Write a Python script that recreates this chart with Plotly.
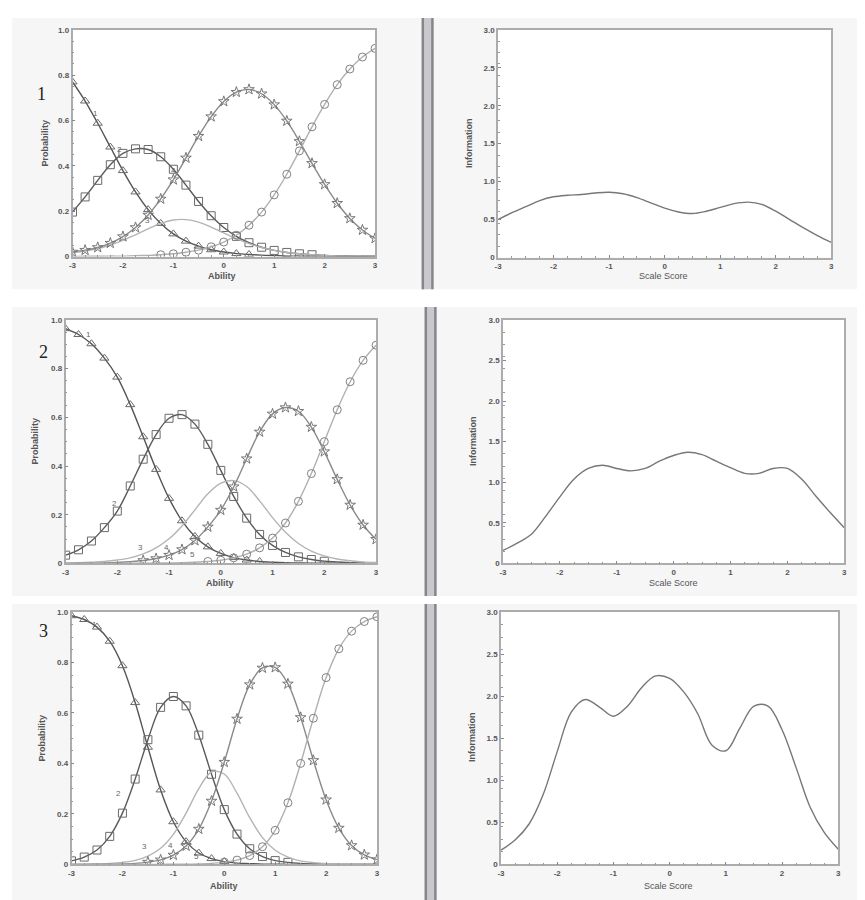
import plotly.graph_objects as go

# ---------------- data ----------------
THETA = [-3.0, -2.75, -2.5, -2.25, -2.0, -1.75, -1.5, -1.25, -1.0, -0.75, -0.5, -0.25,
         0.0, 0.25, 0.5, 0.75, 1.0, 1.25, 1.5, 1.75, 2.0, 2.25, 2.5, 2.75, 3.0]

# Row 1 category response curves
R1_CAT1 = [0.770, 0.686, 0.588, 0.483, 0.379, 0.285, 0.207, 0.146, 0.100, 0.068, 0.046, 0.030, 0.020,
           0.013, 0.009, 0.006, 0.004, 0.002, 0.002, 0.001, 0.001, 0.000, 0.000, 0.000, 0.000]
R1_CAT2 = [0.196, 0.263, 0.336, 0.405, 0.455, 0.475, 0.472, 0.440, 0.385, 0.315, 0.243, 0.180, 0.128,
           0.089, 0.061, 0.041, 0.027, 0.018, 0.012, 0.008, 0.005, 0.003, 0.002, 0.001, 0.001]
R1_CAT3 = [0.016, 0.024, 0.035, 0.051, 0.071, 0.096, 0.122, 0.146, 0.161, 0.163, 0.152, 0.130, 0.104,
           0.079, 0.057, 0.040, 0.027, 0.018, 0.012, 0.008, 0.005, 0.003, 0.002, 0.002, 0.001]
R1_CAT4 = [0.020, 0.028, 0.040, 0.059, 0.088, 0.128, 0.183, 0.254, 0.339, 0.435, 0.531, 0.617, 0.684,
           0.725, 0.737, 0.718, 0.670, 0.598, 0.508, 0.411, 0.318, 0.235, 0.168, 0.117, 0.080]
R1_CAT5 = [0.000, 0.001, 0.001, 0.002, 0.002, 0.004, 0.005, 0.008, 0.012, 0.019, 0.028, 0.043, 0.064,
           0.094, 0.138, 0.196, 0.272, 0.363, 0.466, 0.572, 0.671, 0.758, 0.827, 0.880, 0.918]

# Row 2 category response curves
R2_CAT1 = [0.964, 0.940, 0.902, 0.843, 0.765, 0.652, 0.520, 0.386, 0.267, 0.175, 0.111, 0.068, 0.041,
           0.024, 0.014, 0.008, 0.005, 0.003, 0.002, 0.001, 0.001, 0.000, 0.000, 0.000, 0.000]
R2_CAT2 = [0.034, 0.056, 0.092, 0.147, 0.215, 0.318, 0.428, 0.529, 0.596, 0.611, 0.572, 0.489, 0.382,
           0.275, 0.186, 0.119, 0.074, 0.045, 0.027, 0.016, 0.009, 0.006, 0.003, 0.002, 0.001]
R2_CAT3 = [0.002, 0.003, 0.005, 0.008, 0.014, 0.023, 0.039, 0.064, 0.101, 0.154, 0.220, 0.286, 0.330,
           0.340, 0.316, 0.257, 0.188, 0.128, 0.082, 0.051, 0.031, 0.018, 0.011, 0.006, 0.004]
R2_CAT4 = [0.000, 0.001, 0.001, 0.002, 0.004, 0.007, 0.012, 0.020, 0.034, 0.057, 0.094, 0.150, 0.219,
           0.315, 0.430, 0.540, 0.614, 0.640, 0.625, 0.560, 0.459, 0.345, 0.240, 0.158, 0.099]
R2_CAT5 = [0.000, 0.000, 0.000, 0.000, 0.000, 0.000, 0.001, 0.001, 0.002, 0.003, 0.005, 0.008, 0.013,
           0.023, 0.038, 0.064, 0.104, 0.166, 0.255, 0.369, 0.500, 0.631, 0.746, 0.834, 0.896]

# Row 3 category response curves
R3_CAT1 = [0.985, 0.970, 0.940, 0.884, 0.787, 0.641, 0.464, 0.295, 0.169, 0.090, 0.045, 0.023, 0.011,
           0.005, 0.003, 0.001, 0.001, 0.000, 0.000, 0.000, 0.000, 0.000, 0.000, 0.000, 0.000]
R3_CAT2 = [0.014, 0.029, 0.057, 0.111, 0.203, 0.338, 0.494, 0.622, 0.665, 0.628, 0.512, 0.357, 0.217,
           0.120, 0.062, 0.031, 0.015, 0.008, 0.004, 0.002, 0.001, 0.000, 0.000, 0.000, 0.000]
R3_CAT3 = [0.001, 0.001, 0.002, 0.004, 0.008, 0.016, 0.033, 0.064, 0.119, 0.203, 0.300, 0.366, 0.358,
           0.282, 0.185, 0.106, 0.056, 0.029, 0.014, 0.007, 0.003, 0.002, 0.001, 0.000, 0.000]
R3_CAT4 = [0.000, 0.000, 0.001, 0.001, 0.002, 0.004, 0.009, 0.018, 0.037, 0.073, 0.140, 0.251, 0.405,
           0.576, 0.712, 0.778, 0.780, 0.715, 0.582, 0.412, 0.256, 0.144, 0.075, 0.038, 0.019]
R3_CAT5 = [0.000, 0.000, 0.000, 0.000, 0.000, 0.000, 0.000, 0.000, 0.001, 0.001, 0.002, 0.004, 0.009,
           0.017, 0.035, 0.070, 0.135, 0.244, 0.400, 0.579, 0.740, 0.854, 0.924, 0.962, 0.981]

# Information curves
INFO1 = [0.50, 0.59, 0.67, 0.75, 0.80, 0.82, 0.83, 0.85, 0.86, 0.84, 0.79, 0.72, 0.65,
         0.60, 0.58, 0.61, 0.66, 0.71, 0.73, 0.70, 0.61, 0.50, 0.39, 0.29, 0.20]
INFO2 = [0.16, 0.25, 0.36, 0.58, 0.82, 1.04, 1.17, 1.21, 1.17, 1.14, 1.17, 1.26, 1.33,
         1.37, 1.34, 1.26, 1.18, 1.11, 1.11, 1.17, 1.17, 1.04, 0.83, 0.63, 0.44]
INFO3 = [0.17, 0.29, 0.48, 0.83, 1.34, 1.81, 1.96, 1.87, 1.76, 1.88, 2.10, 2.24, 2.21,
         2.05, 1.79, 1.42, 1.35, 1.62, 1.88, 1.88, 1.60, 1.15, 0.68, 0.38, 0.18]

PROB_TICKS = [0, 0.2, 0.4, 0.6, 0.8, 1.0]
PROB_TICKTEXT = ["0", "0.2", "0.4", "0.6", "0.8", "1.0"]
INFO_TICKS = [0, 0.5, 1.0, 1.5, 2.0, 2.5, 3.0]
INFO_TICKTEXT = ["0", "0.5", "1.0", "1.5", "2.0", "2.5", "3.0"]
X_TICKS = [-3, -2, -1, 0, 1, 2, 3]
X_TICKTEXT = ["-3", "-2", "-1", "0", "1", "2", "3"]

ROW_LABELS = ["1", "2", "3"]
CAT_LABELS = ["1", "2", "3", "4", "5"]
# label anchor positions (theta, prob) per row
CAT_LABEL_POS = [
    [(-2.55, 0.63), (-2.07, 0.47), (-1.52, 0.16), (-1.0, 0.38), None],
    [(-2.56, 0.94), (-2.06, 0.245), (-1.56, 0.065), (-1.05, 0.065), (-0.55, 0.037)],
    [(-2.55, 0.95), (-2.07, 0.28), (-1.56, 0.07), (-1.05, 0.073), (-0.55, 0.03)],
]

ROWS = [
    [R1_CAT1, R1_CAT2, R1_CAT3, R1_CAT4, R1_CAT5],
    [R2_CAT1, R2_CAT2, R2_CAT3, R2_CAT4, R2_CAT5],
    [R3_CAT1, R3_CAT2, R3_CAT3, R3_CAT4, R3_CAT5],
]
INFOS = [INFO1, INFO2, INFO3]

# ---------------- layout geometry (pixels) ----------------
W, H = 865, 900
# plot areas: (x0, x1, y_top, y_bottom)
LEFT_BOX = [(61, 366, 18, 247), (54, 367, 311, 557), (60, 368, 606, 861)]
RIGHT_BOX = [(490, 826, 18, 248), (495, 839, 311, 557), (493, 833, 606, 861)]
PANELS = [(6, 280), (298, 590), (598, 900)]
BARS = [(413, 425), (416, 428), (416, 428)]

LINE_COLORS = ["#555555", "#5a5a5a", "#b4b4b4", "#8a8a8a", "#b0b0b0"]
MARKERS = ["triangle-up-open", "square-open", None, "star-open", "circle-open"]
MARKER_COLORS = ["#6a6a6a", "#6a6a6a", None, "#777777", "#808080"]


def px_x(v):
    return v / W


def px_y(v):
    return 1 - v / H


def bold(labels):
    return [f"<b>{t}</b>" for t in labels]


fig = go.Figure()
shapes = []
annotations = []
FONT = "Liberation Sans"

# panel backgrounds and separators
for (top, bot), (bx0, bx1) in zip(PANELS, BARS):
    shapes.append(dict(type="rect", xref="paper", yref="paper", x0=0, x1=1,
                       y0=px_y(bot), y1=px_y(top), fillcolor="#f6f6f7",
                       line=dict(width=0), layer="below"))
    shapes.append(dict(type="rect", xref="paper", yref="paper", x0=px_x(bx0), x1=px_x(bx1),
                       y0=px_y(bot), y1=px_y(top), fillcolor="#c9c9cd",
                       line=dict(width=0), layer="below"))
    for xx in (bx0 + 1.2, bx1 - 1.2):
        shapes.append(dict(type="line", xref="paper", yref="paper", x0=px_x(xx), x1=px_x(xx),
                           y0=px_y(bot), y1=px_y(top), line=dict(color="#85858a", width=2.4),
                           layer="below"))

for r in range(3):
    for box in (LEFT_BOX[r], RIGHT_BOX[r]):
        x0, x1, yt, yb = box
        shapes.append(dict(type="rect", xref="paper", yref="paper", x0=px_x(x0), x1=px_x(x1),
                           y0=px_y(yb), y1=px_y(yt), fillcolor="white",
                           line=dict(width=0), layer="below"))

layout_axes = {}
for r in range(3):
    li = 2 * r + 1
    ri = 2 * r + 2
    lx = "x" if li == 1 else f"x{li}"
    ly = "y" if li == 1 else f"y{li}"
    rx = f"x{ri}"
    ry = f"y{ri}"
    cats = ROWS[r]
    for k in range(5):
        ys = cats[k]
        fig.add_trace(go.Scatter(x=THETA, y=ys, mode="lines", xaxis=lx, yaxis=ly,
                                 line=dict(color=LINE_COLORS[k], width=1.4, shape="spline",
                                           smoothing=1.0),
                                 hoverinfo="skip", showlegend=False))
        if MARKERS[k] is not None:
            mx = [t for t, v in zip(THETA, ys) if v >= 0.008]
            my = [v for v in ys if v >= 0.008]
            fig.add_trace(go.Scatter(x=mx, y=my, mode="markers", xaxis=lx, yaxis=ly,
                                     marker=dict(symbol=MARKERS[k], size=8,
                                                 color=MARKER_COLORS[k],
                                                 line=dict(width=1, color=MARKER_COLORS[k])),
                                     hoverinfo="skip", showlegend=False))
    fig.add_trace(go.Scatter(x=THETA, y=INFOS[r], mode="lines", xaxis=rx, yaxis=ry,
                             line=dict(color="#777777", width=1.4, shape="spline", smoothing=1.0),
                             hoverinfo="skip", showlegend=False))

    for idx, box, ymax, tv, tt in ((li, LEFT_BOX[r], 1.0, PROB_TICKS, PROB_TICKTEXT),
                                   (ri, RIGHT_BOX[r], 3.0, INFO_TICKS, INFO_TICKTEXT)):
        x0, x1, yt, yb = box
        xname = "xaxis" if idx == 1 else f"xaxis{idx}"
        yname = "yaxis" if idx == 1 else f"yaxis{idx}"
        anchor_x = "y" if idx == 1 else f"y{idx}"
        anchor_y = "x" if idx == 1 else f"x{idx}"
        common = dict(showgrid=False, zeroline=False, showline=True, mirror=True,
                      linecolor="#acacac", linewidth=1.5, ticks="inside", ticklen=3,
                      tickcolor="#888888",
                      tickfont=dict(family=FONT, size=8, color="#555555"))
        layout_axes[xname] = dict(common, domain=[px_x(x0), px_x(x1)], range=[-3, 3],
                                  anchor=anchor_x, tickvals=X_TICKS, ticktext=bold(X_TICKTEXT),
                                  minor=dict(ticks="inside", ticklen=2, dtick=0.25,
                                             tickcolor="#999999"))
        layout_axes[yname] = dict(common, domain=[px_y(yb), px_y(yt)], range=[0, ymax],
                                  anchor=anchor_y, tickvals=tv, ticktext=bold(tt),
                                  minor=dict(ticks="inside", ticklen=2, dtick=ymax / 20,
                                             tickcolor="#999999"))

# axis titles
TITLE_POS = [
    ((33, 132), (212, 267), (460, 132), (657, 267)),
    ((23, 433), (210, 577), (464, 433), (667, 577)),
    ((30, 733), (214, 883), (463, 732), (662, 883)),
]
for r in range(3):
    (pl, al, il, sl) = TITLE_POS[r]
    for (pos, txt, ang) in ((pl, "<b>Probability</b>", -90), (al, "<b>Ability</b>", 0),
                            (il, "<b>Information</b>", -90), (sl, "Scale Score", 0)):
        annotations.append(dict(xref="paper", yref="paper", x=px_x(pos[0]), y=px_y(pos[1]),
                                text=txt, showarrow=False, textangle=ang,
                                font=dict(family=FONT, size=9, color="#555555"),
                                xanchor="center", yanchor="middle"))

ROW_LABEL_POS = [(30, 83), (32, 343), (32, 625)]
for lab, pos in zip(ROW_LABELS, ROW_LABEL_POS):
    annotations.append(dict(xref="paper", yref="paper", x=px_x(pos[0]), y=px_y(pos[1]),
                            text=lab, showarrow=False,
                            font=dict(family="Liberation Serif", size=18, color="#222222"),
                            xanchor="center", yanchor="middle"))

for r in range(3):
    lx = "x" if r == 0 else f"x{2 * r + 1}"
    ly = "y" if r == 0 else f"y{2 * r + 1}"
    for lab, pos in zip(CAT_LABELS, CAT_LABEL_POS[r]):
        if pos is None:
            continue
        annotations.append(dict(xref=lx, yref=ly, x=pos[0], y=pos[1], text=lab,
                                showarrow=False,
                                font=dict(family=FONT, size=8, color="#666666"),
                                xanchor="center", yanchor="middle"))

fig.update_layout(width=W, height=H, margin=dict(l=0, r=0, t=0, b=0),
                  paper_bgcolor="white", plot_bgcolor="rgba(0,0,0,0)",
                  shapes=shapes, annotations=annotations, showlegend=False,
                  **layout_axes)

fig.write_html("out.html")
